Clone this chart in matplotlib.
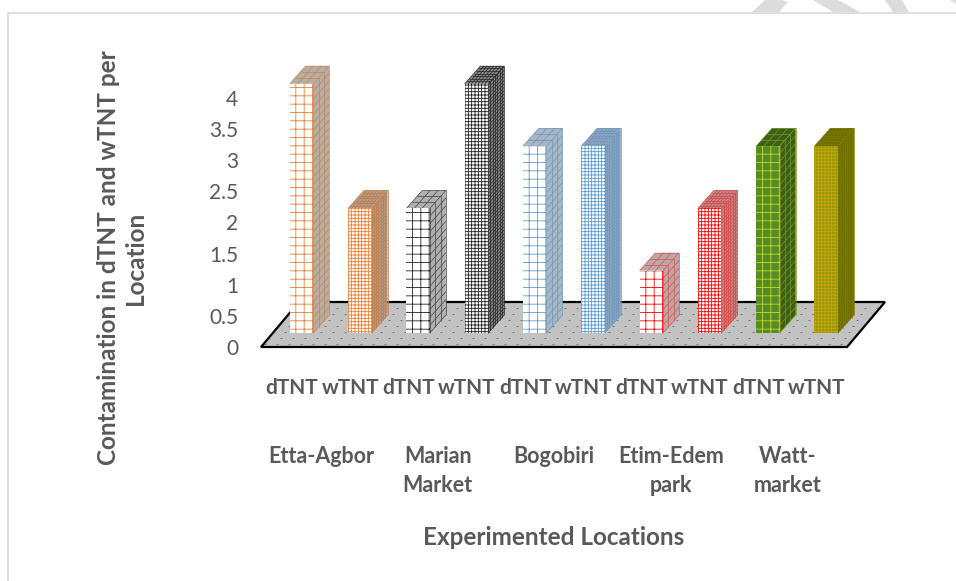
import matplotlib
matplotlib.use("Agg")
import matplotlib.pyplot as plt
import numpy as np
from matplotlib.lines import Line2D
from matplotlib.patches import Polygon
from matplotlib.collections import LineCollection

plt.rcParams['font.family'] = ['Lato', 'DejaVu Sans']
plt.rcParams['hatch.linewidth'] = 0.6

# datos
series = ["dTNT", "wTNT"] * 5
valores = [4, 2, 2, 4, 3, 3, 1, 2, 3, 3]
lugares = ["Etta-Agbor", "Marian\nMarket", "Bogobiri", "Etim-Edem\npark", "Watt-\nmarket"]
yticks = [0, 0.5, 1, 1.5, 2, 2.5, 3, 3.5, 4]
ytick_labels = ["0", "0.5", "1", "1.5", "2", "2.5", "3", "3.5", "4"]

# estilos de cada barra
cara = ["white", "white", "white", "white", "white", "white", "white", "white", "#558a30", "#8f9a12"]
linea = ["#ed7d31", "#ed7d31", "#222222", "#222222", "#5b9bd5", "#5b9bd5", "#ff0000", "#ff0000", "#c9dc10", "#d0a400"]
lado = ["#b5ada6", "#b5a090", "#b0b0b0", "#8c8c8c", "#a9b6c4", "#8fa6bf", "#b8a8a8", "#b89090", "#3c5e1c", "#6b6b00"]
linea_lado = ["#c8854f", "#c07a45", "#444444", "#222222", "#6f96bb", "#6f96bb", "#e05050", "#e04040", "#7d9a10", "#7f7a00"]
densa = [False, True, False, True, False, True, False, True, False, True]

W, H = 956, 581
PX_X, PX_Y = 58.3, 62.3
fig = plt.figure(figsize=(W / 100, H / 100), dpi=100)
ax = fig.add_axes([261 / W, (H - 347) / H, 586 / W, 299 / H])
x0 = -0.53
ax.set_xlim(x0, x0 + 586 / PX_X)
ax.set_ylim(0, 299 / PX_Y)
for s in ax.spines.values():
    s.set_visible(False)
ax.patch.set_alpha(0)

# piso
xa, xb = ax.get_xlim()
prof_x, prof_y = 38 / PX_X, 45 / PX_Y
piso = [(xa, 0), (xb, 0), (xb + prof_x, prof_y), (xa + prof_x, prof_y)]
fondo = Polygon(piso, closed=True, facecolor="#c2c2c2", edgecolor="none", clip_on=False, zorder=1)
ax.add_patch(fondo)
# textura del piso, filas de rayitas
px, py = [], []
for k, yy in enumerate(np.arange(3, 45, 6)):
    for xx in np.arange(-20, 650, 12):
        px.append(xa + (xx + 4 * k) / PX_X)
        py.append(yy / PX_Y)
textura = ax.plot(px, py, linestyle="none", marker="_", markersize=1.6, markeredgewidth=0.6,
                  color="#707070", zorder=1.5, clip_on=True)[0]
textura.set_clip_path(fondo)
ax.add_patch(Polygon(piso, closed=True, fill=False, edgecolor="black", linewidth=1.6,
                     clip_on=False, zorder=2))

# barras
pos = np.arange(len(valores))
corr = 9.6 / PX_X
ancho = 23.5 / PX_X
base = 14 / PX_Y
dx, dy = 16 / PX_X, 18 / PX_Y
hatches = ["+++++" if d else "++" for d in densa]
ax.bar(pos + corr, valores, width=ancho, bottom=base, color=cara, edgecolor=linea,
       hatch=hatches, linewidth=0, zorder=4)

for i, v in enumerate(valores):
    izq = pos[i] + corr - ancho / 2
    der = izq + ancho
    sup = base + v
    paso = (3.4 if densa[i] else 7.8) / PX_Y
    ncol = 7 if densa[i] else 3
    ax.add_patch(Polygon([(der, base), (der + dx, base + dy), (der + dx, sup + dy), (der, sup)],
                         facecolor=lado[i], edgecolor="none", zorder=3, clip_on=False))
    ax.add_patch(Polygon([(izq, sup), (der, sup), (der + dx, sup + dy), (izq + dx, sup + dy)],
                         facecolor=lado[i], edgecolor="none", zorder=3, clip_on=False))
    segs = []
    for y in np.arange(base, sup + 1e-6, paso):
        segs.append([(der, y), (der + dx, y + dy)])
    for t in np.linspace(0, 1, ncol + 1):
        segs.append([(der + t * dx, base + t * dy), (der + t * dx, sup + t * dy)])
        segs.append([(izq + t * dx, sup + t * dy), (der + t * dx, sup + t * dy)])
        segs.append([(izq + t * ancho, sup), (izq + t * ancho + dx, sup + dy)])
    ax.add_collection(LineCollection(segs, colors=linea_lado[i], linewidths=0.5, zorder=3.5, clip_on=False))

# textos
gris = "#595959"
ax.set_yticks(yticks)
ax.set_yticklabels(ytick_labels, fontsize=15, color=gris)
ax.set_xticks(pos)
ax.set_xticklabels(series, fontsize=15, fontweight="bold", color=gris)
ax.tick_params(axis="y", length=0, pad=16.5)
ax.tick_params(axis="x", length=0, pad=22.5)

for j, nombre in enumerate(lugares):
    ax.text(pos[2 * j] + 0.5, -1.59, nombre, ha="center", va="top", fontsize=15.5, fontweight="bold",
            color=gris, linespacing=1.45, clip_on=False)

ax.set_xlabel("Experimented Locations", fontsize=17.5, fontweight="bold", color=gris, va="center")
ax.xaxis.set_label_coords(0.5, -0.638)
ax.set_ylabel("Contamination in dTNT and wTNT per\nLocation", fontsize=17.5, fontweight="bold", color=gris,
              va="center", ha="center", linespacing=1.22)
ax.yaxis.set_label_coords(-0.237, 0.298)

# marco y marca de agua
borde = "#d9d9d9"
fig.add_artist(Line2D([7.5 / W, 7.5 / W, 1], [0, (H - 13) / H, (H - 13) / H], color=borde, linewidth=1.2))
marcas = [[(752, 12), (779, 12), (788, 2), (782, 0), (765, 0)],
          [(813, 0), (838, 0), (860, 12), (833, 12)],
          [(885, 0), (902, 0), (909, 12), (893, 12)],
          [(950, 0), (956, 0), (956, 4)]]
for m in marcas:
    fig.add_artist(Polygon([(a / W, (H - b) / H) for a, b in m], closed=True, facecolor="#dcdcdc",
                           edgecolor="none", transform=fig.transFigure))

plt.savefig("out.png", dpi=100)
